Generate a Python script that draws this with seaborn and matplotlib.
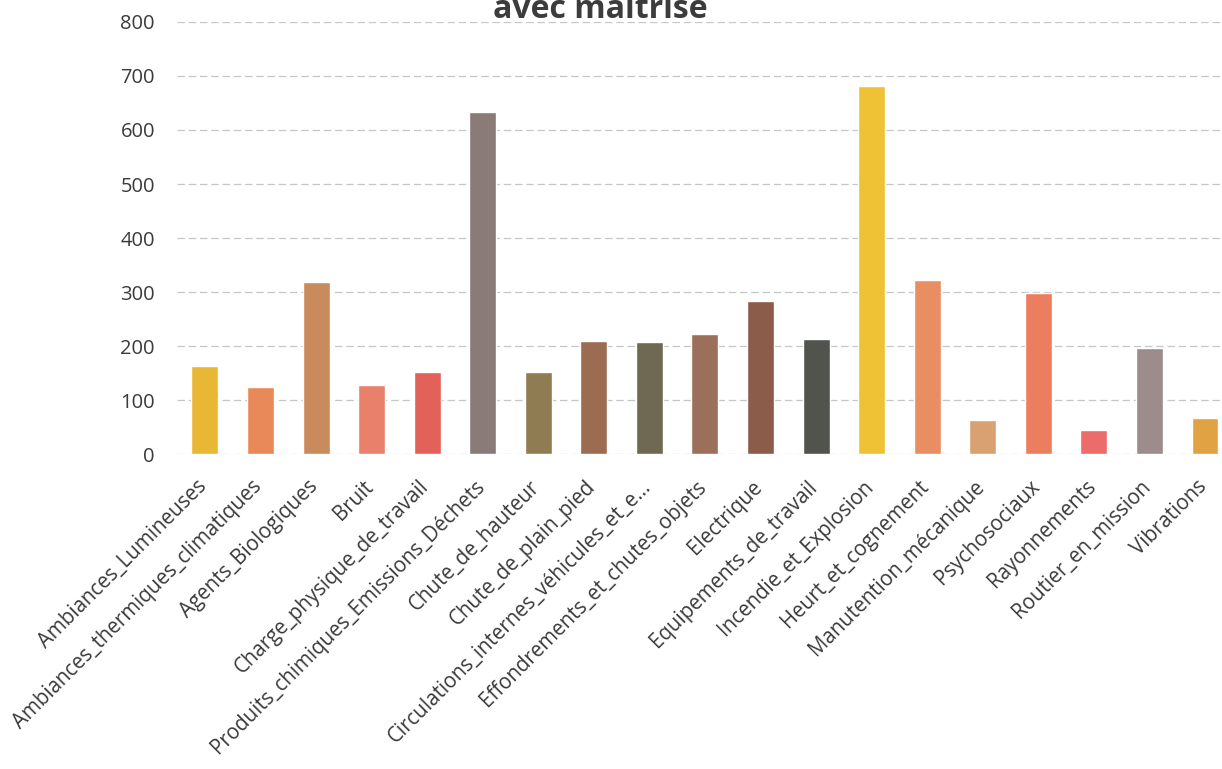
import matplotlib
matplotlib.use("Agg")
import matplotlib.pyplot as plt
import matplotlib.transforms as mtransforms
import seaborn as sns
import pandas as pd

categories = [
    "Ambiances_Lumineuses",
    "Ambiances_thermiques_climatiques",
    "Agents_Biologiques",
    "Bruit",
    "Charge_physique_de_travail",
    "Produits_chimiques_Emissions_Déchets",
    "Chute_de_hauteur",
    "Chute_de_plain_pied",
    "Circulations_internes_véhicules_et_e...",
    "Effondrements_et_chutes_objets",
    "Electrique",
    "Equipements_de_travail",
    "Incendie_et_Explosion",
    "Heurt_et_cognement",
    "Manutention_mécanique",
    "Psychosociaux",
    "Rayonnements",
    "Routier_en_mission",
    "Vibrations",
]
values = [163, 124, 318, 128, 151, 634, 152, 210, 208, 222, 283, 213, 682, 322, 63, 298, 44, 197, 66]
bar_colors = [
    "#E8B834", "#E98858", "#C98A5C", "#E9806C", "#E2625A", "#8A7B78",
    "#8F7C52", "#9C6C52", "#6F6852", "#9B6F5A", "#8B5C4A", "#50544C",
    "#EEC234", "#E98E62", "#D9A072", "#EC7E60", "#EC6C6C", "#9C8C8C", "#E1A244",
]
y_ticks = [0, 100, 200, 300, 400, 500, 600, 700, 800]
title_text = "avec maitrise"

sns.set_theme(style="white")
plt.rcParams["font.family"] = ["Open Sans", "DejaVu Sans"]

df = pd.DataFrame({"cat": categories, "val": values})

fig = plt.figure(figsize=(12.22, 7.69), dpi=100)
ax = fig.add_axes([0.1450, 0.4096, 0.8638, 0.5618])

sns.barplot(data=df, x="cat", y="val", hue="cat", palette=bar_colors,
            legend=False, width=0.485, ax=ax, saturation=1, zorder=3)

ax.set_xlim(-0.5, len(categories) - 0.5)
ax.set_ylim(0, 800)
ax.set_yticks(y_ticks)
ax.set_yticklabels([str(t) for t in y_ticks], fontsize=14.5, color="#3a3a3a")
ax.set_xlabel("")
ax.set_ylabel("")
for s in ax.spines.values():
    s.set_visible(False)
ax.yaxis.grid(True, color="#c6c6c6", linewidth=0.9, linestyle=(0, (6, 3)), zorder=0)
ax.xaxis.grid(False)
ax.tick_params(axis="y", length=0, pad=16)
ax.tick_params(axis="x", length=0, pad=16)
ax.set_xticks(range(len(categories)))
ax.set_xticklabels(categories, rotation=45, ha="right", rotation_mode="anchor",
                   fontsize=14.8, color="#3a3a3a")
offset = mtransforms.ScaledTranslation(-9 / 100, 0, fig.dpi_scale_trans)
for lbl in ax.get_xticklabels():
    lbl.set_transform(lbl.get_transform() + offset)

fig.text(0.491, 0.977, title_text, ha="center", va="baseline", fontsize=23,
         fontweight="bold", color="#3c3c3c")

fig.savefig("out.png", dpi=100)
